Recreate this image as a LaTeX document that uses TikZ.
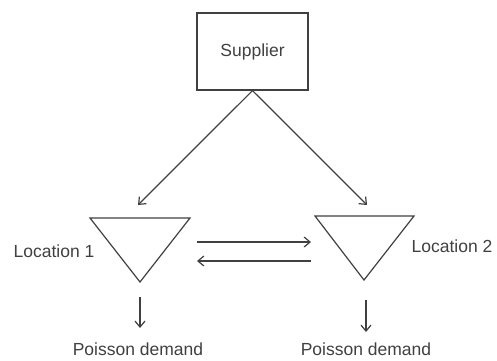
\documentclass[tikz,border=0pt]{standalone}
\usepackage{fontspec}
\setmainfont{Liberation Sans}
\usetikzlibrary{arrows.meta}
\begin{document}
\begin{tikzpicture}[x=1pt,y=-1pt,
  ln/.style={draw=black!75,line width=1.2pt},
  arr/.style={ln,-{Straight Barb[length=6pt,width=10pt]}},
  lbl/.style={font=\fontsize{17.5}{19}\selectfont,text=black!75,inner sep=0pt}]
\useasboundingbox (0,0) rectangle (497,360);
\node[ln,minimum width=111pt,minimum height=77pt,inner sep=0pt,
      font=\fontsize{17.5}{19}\selectfont,text=black!75] (sup) at (252.5,51.5) {Supplier};
\coordinate (t1a) at (90,218); \coordinate (t1b) at (190,218); \coordinate (t1c) at (140,282);
\coordinate (t2a) at (315,216); \coordinate (t2b) at (414,216); \coordinate (t2c) at (364,280);
\draw[ln,line join=miter] (t1a) -- (t1b) -- (t1c) -- cycle;
\draw[ln,line join=miter] (t2a) -- (t2b) -- (t2c) -- cycle;
\coordinate (e1) at (138,205);
\coordinate (e2) at (367,205);
\draw[arr] (sup.south) -- (e1);
\draw[arr] (sup.south) -- (e2);
\coordinate (h1s) at (197,242); \coordinate (h1e) at (311,242);
\coordinate (h2s) at (311,261); \coordinate (h2e) at (197,261);
\draw[arr] (h1s) -- (h1e);
\draw[arr] (h2s) -- (h2e);
\node[lbl] (l1) at (54,251) {Location 1};
\node[lbl] (l2) at (452,246) {Location 2};
\coordinate (d1s) at (140,297); \coordinate (d1e) at (140,328);
\coordinate (d2s) at (366,300); \coordinate (d2e) at (366,332);
\draw[arr] (d1s) -- (d1e);
\draw[arr] (d2s) -- (d2e);
\node[lbl] (p1) at (138,349.5) {Poisson demand};
\node[lbl] (p2) at (366,349.5) {Poisson demand};
\end{tikzpicture}
\end{document}
